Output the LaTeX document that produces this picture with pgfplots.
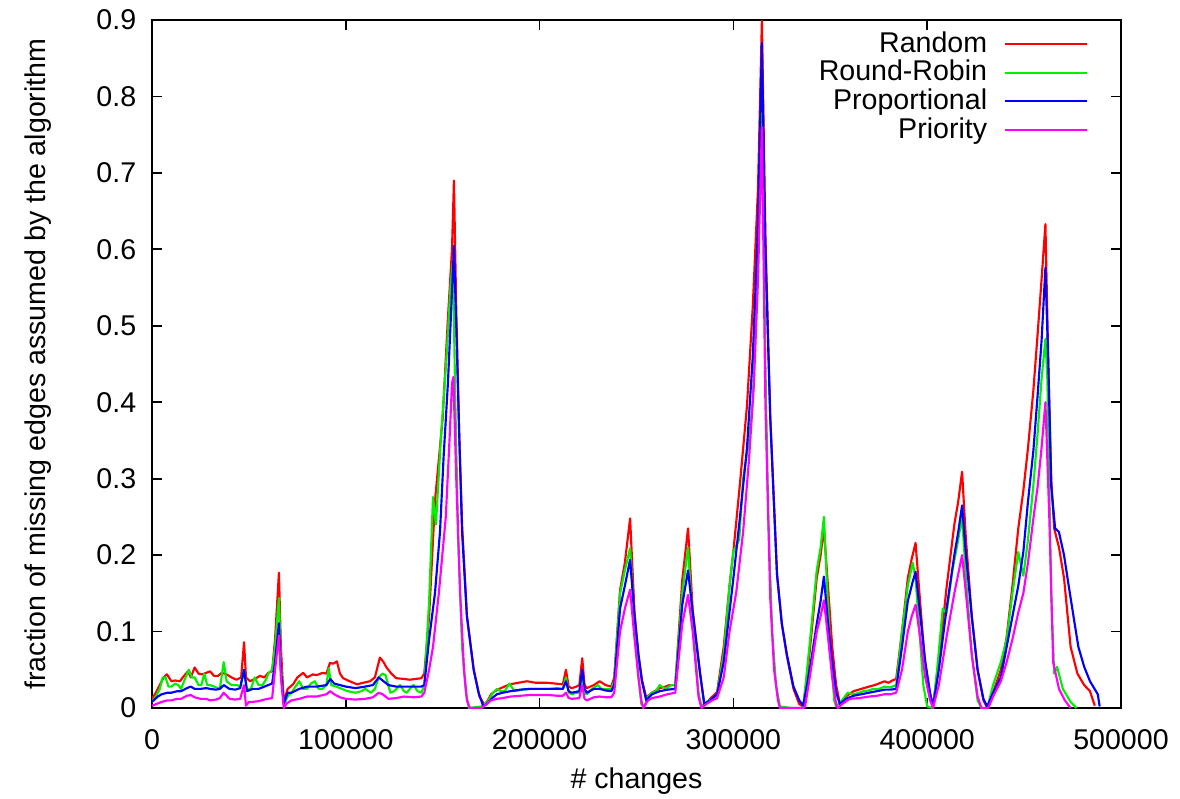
\documentclass[border=0pt]{standalone}
\usepackage{fontspec}
\setmainfont{Liberation Sans}
\usepackage{pgfplots}
\pgfplotsset{compat=1.18}
\usepackage{pgfplotstable}

\definecolor{cR}{RGB}{255,0,0}
\definecolor{cG}{RGB}{0,240,0}
\definecolor{cB}{RGB}{0,0,255}
\definecolor{cP}{RGB}{255,0,255}

% x in thousands of changes
\pgfplotstableread{
x y
0 0.012
2 0.02
4 0.03
6 0.04
7.7 0.044
10 0.035
12 0.036
14.4 0.035
16.5 0.042
18.6 0.048
20 0.04
22 0.053
24 0.045
25.8 0.044
28 0.046
30 0.048
32 0.042
34 0.042
36 0.046
38.5 0.044
41 0.04
43.6 0.037
46 0.04
47.5 0.086
48.5 0.04
50.6 0.035
53 0.038
55.7 0.042
58 0.04
60 0.046
62 0.048
63.5 0.09
65.5 0.177
66.5 0.08
68 0.008
70 0.025
72.8 0.031
75 0.04
78 0.046
80 0.04
83 0.044
85 0.043
88 0.046
90 0.045
91.8 0.059
93.5 0.058
95.4 0.061
97 0.045
98.6 0.039
102 0.035
105.8 0.031
109 0.033
112.5 0.035
115 0.04
117.6 0.066
119.5 0.06
121 0.053
123.5 0.045
126 0.039
130 0.038
133 0.037
136 0.038
139 0.039
140.5 0.045
143 0.12
146 0.27
150 0.38
152.7 0.51
154.8 0.6
155.8 0.69
157 0.52
158.5 0.36
160 0.24
162.5 0.12
166 0.05
169 0.015
171.5 0.004
173 0.009
175 0.018
177 0.022
180 0.026
184.7 0.031
189 0.033
193.5 0.035
198 0.033
203.8 0.033
208 0.032
212 0.031
213.6 0.05
215 0.028
216.6 0.026
219 0.028
220.5 0.03
222 0.065
223.2 0.03
224.4 0.026
228 0.03
231 0.035
234 0.03
237 0.028
238.5 0.04
241.5 0.154
244 0.19
246.7 0.248
249 0.124
251 0.07
252.8 0.037
255 0.014
258 0.02
262 0.026
265 0.028
267 0.03
270 0.03
273.6 0.167
276.6 0.235
279 0.128
282.8 0.046
285 0.004
288 0.012
291.6 0.021
295 0.08
298 0.16
300 0.205
303.4 0.294
307 0.395
310 0.525
312.7 0.68
314.7 0.899
316.5 0.62
319 0.383
322.5 0.175
325 0.11
327.6 0.068
331 0.025
334 0.005
336 0.002
338 0.04
340 0.09
343 0.17
345 0.2
346.7 0.235
348.5 0.17
351 0.08
353 0.03
355 0.005
358 0.015
362 0.022
366 0.025
370 0.028
373 0.03
375 0.032
378 0.035
380 0.033
382 0.036
384 0.038
387 0.1
390 0.17
392 0.195
394 0.216
396 0.15
398.5 0.07
401 0.02
403 0.003
406 0.06
410 0.158
414 0.24
416 0.27
418 0.309
420 0.22
423 0.12
426 0.05
429 0.01
431 0.0
434 0.02
438 0.05
441 0.093
444 0.16
447 0.235
449.6 0.284
452 0.34
454.8 0.416
457 0.49
459 0.56
461 0.633
462.5 0.45
464 0.3
465.5 0.235
468 0.21
470.6 0.17
474 0.08
477.5 0.045
481 0.03
484 0.022
486.5 0.003
}\tabRandom

\pgfplotstableread{
x y
0 0.008
2 0.015
4 0.025
5.5 0.04
7 0.04
8.5 0.028
10 0.028
12 0.032
13.5 0.03
15 0.025
17 0.038
19 0.05
20.5 0.04
22 0.04
24 0.03
25.5 0.03
27 0.045
28.5 0.03
30 0.03
32 0.028
35 0.025
37 0.06
38.5 0.035
41 0.03
44 0.03
45.5 0.028
47.5 0.05
49 0.025
51 0.025
53 0.04
55 0.03
57 0.03
59 0.038
60 0.045
62 0.05
63.5 0.08
65.5 0.144
66.5 0.06
68 0.004
70 0.015
72 0.02
74 0.028
76 0.035
78 0.025
80 0.025
82 0.032
84 0.035
86 0.025
88 0.025
90 0.03
91.2 0.052
92.5 0.03
95 0.028
98 0.025
101 0.022
105 0.02
108 0.022
110 0.025
113 0.02
115 0.025
117 0.04
119 0.045
120.5 0.043
123 0.02
125 0.022
128 0.03
130 0.022
131.5 0.02
133 0.025
135 0.03
137 0.022
139 0.02
140.5 0.03
143 0.14
145 0.276
146.5 0.24
149 0.35
152 0.46
154 0.55
155.3 0.585
156.5 0.4
158 0.22
160 0.08
162 0.02
163.5 0.0
170 0.002
173 0.008
176 0.02
178 0.025
180 0.022
182 0.022
184.5 0.032
187 0.022
191 0.024
195 0.025
200 0.025
205 0.025
209 0.026
212 0.025
213.6 0.04
215 0.02
216.6 0.018
219 0.02
220.5 0.02
222 0.045
223.2 0.02
224.4 0.018
227 0.025
230 0.03
232 0.025
235 0.025
237 0.025
238.5 0.035
241.5 0.15
244 0.18
246.7 0.209
249 0.11
251 0.04
252.5 0.005
254 0.002
256 0.015
258 0.02
260 0.022
262 0.03
265 0.025
268 0.03
270 0.03
273.6 0.15
276.6 0.21
279 0.11
282 0.02
283.5 0.002
286 0.008
289 0.012
291.6 0.018
295 0.07
298 0.16
300 0.205
303 0.22
305 0.3
308 0.35
310 0.4
312.7 0.6
314.7 0.83
316.5 0.45
318 0.25
320 0.1
322 0.03
324 0.002
330 0.0
336 0.0
340 0.1
343 0.18
345 0.21
346.7 0.25
348.5 0.15
350 0.08
352 0.01
353 0.002
356 0.01
359 0.02
362 0.018
365 0.02
367 0.022
370 0.023
372 0.025
375 0.025
378 0.028
381 0.027
384 0.03
387 0.1
390 0.16
392.5 0.19
394 0.17
396 0.1
398 0.03
400 0.002
403 0.0
405.5 0.06
408 0.13
410 0.124
413 0.18
416 0.22
418 0.25
420 0.17
423 0.07
426 0.01
428 0.0
431 0.0
434 0.03
438 0.06
441 0.09
444 0.15
447 0.204
449.6 0.173
452 0.22
454.8 0.292
457 0.36
459 0.43
461 0.483
462 0.43
464 0.15
465.5 0.045
467 0.054
470 0.025
474 0.008
477 0.0
}\tabRoundRobin

\pgfplotstableread{
x y
0 0.008
3 0.015
5 0.018
8 0.02
10 0.02
13 0.022
15 0.022
18 0.026
20 0.028
22 0.025
25 0.025
28 0.026
30 0.025
33 0.024
35 0.025
37 0.03
40 0.025
43 0.024
45.5 0.026
47.5 0.05
49 0.022
52 0.025
55 0.025
58 0.028
60 0.03
62 0.032
63.5 0.06
65.5 0.111
66.5 0.05
68 0.006
70 0.02
72 0.02
76 0.025
80 0.028
85 0.028
90 0.03
92 0.038
94 0.032
97 0.03
100 0.028
105 0.026
110 0.028
114 0.03
117 0.04
119 0.036
122 0.03
126 0.028
130 0.028
135 0.028
139 0.028
140.5 0.03
143 0.09
146 0.15
148.6 0.23
150.5 0.33
152.7 0.425
155 0.556
155.8 0.605
157 0.5
158.5 0.36
160 0.23
162.5 0.12
166 0.05
168.5 0.02
171 0.002
173 0.006
176 0.014
178 0.018
181 0.02
185 0.022
190 0.024
195 0.025
200 0.025
205 0.025
209 0.025
212 0.025
213.6 0.035
215 0.022
216.6 0.02
220.5 0.022
222 0.05
223.2 0.025
224.4 0.02
228 0.025
231 0.025
234 0.023
237 0.022
238.5 0.03
241.5 0.13
244 0.16
246.7 0.194
249 0.12
251 0.07
252.8 0.035
255 0.01
258 0.018
262 0.022
266 0.024
270 0.025
273.6 0.135
276.6 0.18
279 0.125
282.8 0.045
285 0.005
288 0.01
291.6 0.018
295 0.06
300 0.17
303.4 0.25
307 0.34
310 0.46
312.7 0.63
314.7 0.87
316.5 0.6
319 0.38
322.5 0.175
325 0.11
327.6 0.07
331 0.028
334 0.01
336 0.003
338 0.03
340 0.06
343 0.11
345 0.14
346.7 0.172
348.5 0.12
351 0.06
353 0.02
355 0.005
358 0.012
362 0.016
366 0.018
370 0.02
374 0.022
378 0.024
381 0.024
384 0.025
387 0.08
390 0.14
392.5 0.165
394 0.178
396.5 0.12
399 0.06
401.5 0.02
403 0.002
406 0.05
410 0.13
414 0.2
416 0.23
418 0.265
420 0.2
423 0.12
426 0.05
429 0.012
431 0.002
434 0.02
438 0.04
441 0.08
444 0.12
447 0.16
449.6 0.204
452 0.27
454.8 0.337
457 0.41
459 0.48
461 0.576
462.5 0.45
464 0.29
466 0.235
468 0.23
470.6 0.2
473 0.16
475.8 0.115
478 0.08
481 0.054
484 0.035
488 0.018
489 0.002
}\tabProportional

\pgfplotstableread{
x y
0 0.003
3 0.006
5 0.008
8 0.01
10 0.01
13 0.012
15 0.012
18 0.016
20 0.017
22 0.014
25 0.012
28 0.012
30 0.01
33 0.011
35 0.013
37 0.02
40 0.012
43 0.011
45.5 0.012
47.5 0.03
48.5 0.003
50 0.008
52 0.008
55 0.009
58 0.011
60 0.012
62 0.013
63.5 0.05
65.5 0.095
66.5 0.04
68 0.0
69.5 0.006
72 0.01
76 0.012
80 0.015
85 0.015
90 0.018
92 0.022
94 0.018
97 0.014
100 0.012
105 0.011
110 0.012
114 0.014
117 0.02
119 0.018
122 0.012
126 0.013
130 0.015
135 0.014
139 0.015
140.5 0.02
143 0.05
145 0.08
148 0.15
151.6 0.25
153.5 0.35
154.8 0.425
155.5 0.433
157 0.3
159 0.15
161 0.05
162.5 0.01
164 0.0
170 0.0
172 0.004
175 0.01
178 0.012
181 0.013
185 0.015
190 0.016
195 0.017
200 0.017
205 0.017
209 0.016
212 0.016
213.6 0.02
215 0.013
216.6 0.012
220.5 0.013
222 0.03
223.2 0.012
224.4 0.01
228 0.014
231 0.015
234 0.014
237 0.014
238.5 0.02
241.5 0.1
244 0.13
246.7 0.155
249 0.09
251 0.04
252.5 0.01
253.5 0.0
256 0.01
258 0.013
262 0.015
266 0.018
270 0.02
273.6 0.11
276.6 0.148
279 0.1
282 0.015
283.5 0.0
286 0.005
289 0.01
291.6 0.013
295 0.04
298 0.1
301.5 0.152
305 0.23
308 0.323
310.5 0.42
312.7 0.56
314.7 0.76
316.5 0.4
319 0.145
321 0.05
323 0.01
324 0.0
336 0.0
337 0.002
340 0.05
343 0.1
345 0.12
346.7 0.141
348.5 0.1
351 0.04
353 0.005
354 0.0
356 0.005
360 0.012
365 0.013
370 0.015
374 0.016
378 0.018
381 0.018
384 0.02
387 0.05
390 0.1
392 0.12
394 0.135
396.5 0.09
399 0.04
401.5 0.01
403 0.0
406 0.03
410 0.093
414 0.15
418 0.2
420 0.15
423 0.07
426 0.015
428 0.0
431.5 0.0
434 0.015
438 0.035
441 0.06
444 0.09
447 0.125
449.6 0.15
452 0.19
454.8 0.248
457 0.29
459 0.34
461 0.4
463 0.25
465 0.06
468 0.025
471 0.01
474 0.0
}\tabPriority

\begin{document}
\begin{tikzpicture}
\useasboundingbox (-53.2pt,-31.5pt) rectangle (359.8pt,247.8pt);
\begin{axis}[
  at={(0pt,0pt)}, anchor=south west,
  scale only axis,
  width=339.15pt, height=240.8pt,
  xmin=0, xmax=500000, ymin=0, ymax=0.9,
  xtick={0,100000,200000,300000,400000,500000},
  ytick={0,0.1,0.2,0.3,0.4,0.5,0.6,0.7,0.8,0.9},
  scaled x ticks=false,
  tick align=inside,
  major tick length=3.5pt,
  axis line style={line width=0.6pt},
  every tick/.style={black, line width=0.6pt},
  /pgf/number format/assume math mode=true,
  xticklabel style={/pgf/number format/fixed, /pgf/number format/1000 sep={}, yshift=-4pt},
  yticklabel style={/pgf/number format/fixed, /pgf/number format/precision=1, xshift=-2pt},
  xlabel={\# changes},
  ylabel={fraction of missing edges assumed by the algorithm},
  x label style={at={(axis description cs:0.5,0)}, anchor=center, yshift=-25.5pt},
  y label style={at={(axis description cs:0,0.5)}, anchor=center, yshift=40pt},
  legend plot pos=right,
  legend cell align=right,
  legend image code/.code={\draw[#1] (0pt,0pt) -- (28.7pt,0pt);},
  legend style={draw=none, fill=none, at={(rel axis cs:1,1)}, anchor=north east,
    xshift=-11.4pt, yshift=-3.3pt, inner sep=0pt,
    nodes={inner sep=0.5pt}, row sep=0.3pt, column sep=5.3pt},
  every axis plot/.append style={line width=0.75pt, line join=round},
]
\addplot[cR] table[x expr=\thisrow{x}*1000, y=y] {\tabRandom};
\addlegendentry{Random}
\addplot[cG] table[x expr=\thisrow{x}*1000, y=y] {\tabRoundRobin};
\addlegendentry{Round-Robin}
\addplot[cB] table[x expr=\thisrow{x}*1000, y=y] {\tabProportional};
\addlegendentry{Proportional}
\addplot[cP] table[x expr=\thisrow{x}*1000, y=y] {\tabPriority};
\addlegendentry{Priority}
\end{axis}
\end{tikzpicture}
\end{document}
